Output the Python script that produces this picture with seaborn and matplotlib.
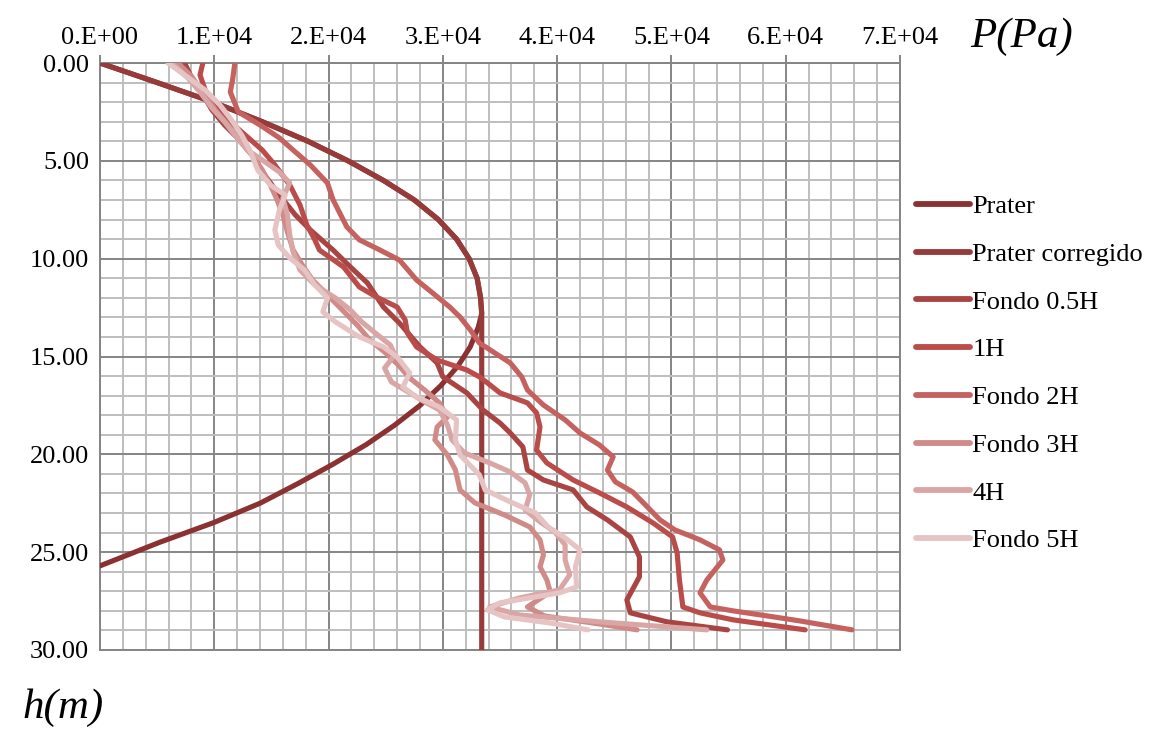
import matplotlib
matplotlib.use("Agg")
import matplotlib.pyplot as plt
import seaborn as sns
import pandas as pd
import numpy as np

# ---------------- data (P in units of 1e4 Pa, h in m) ----------------
series_names = ["Prater", "Prater corregido", "Fondo 0.5H", "1H",
                "Fondo 2H", "Fondo 3H", "4H", "Fondo 5H"]
series_colors = ["#8B3131", "#973A3A", "#A94442", "#BA4C4A",
                 "#C5625F", "#D08A88", "#D9A6A5", "#E6C4C4"]

prater_h = [0, 1, 2, 3, 4, 5, 6, 7, 8, 9, 10, 11, 12, 12.8, 13.5, 14.5, 15.5,
            16.5, 17.5, 18.5, 19.5, 20.5, 21.5, 22.5, 23.5, 24.5, 25.7]
prater_p = [0, 0.50, 0.99, 1.42, 1.82, 2.17, 2.48, 2.75, 2.96, 3.12, 3.23, 3.30,
            3.33, 3.34, 3.31, 3.24, 3.13, 2.98, 2.80, 2.58, 2.33, 2.04, 1.73,
            1.40, 0.99, 0.52, 0]

corr_h = [0, 1, 2, 3, 4, 5, 6, 7, 8, 9, 10, 11, 12, 12.8, 30]
corr_p = [0, 0.50, 0.99, 1.42, 1.82, 2.17, 2.48, 2.75, 2.96, 3.12, 3.23, 3.30,
          3.33, 3.34, 3.34]

f05_h = [0, 0.61, 1.38, 2.40, 3.17, 3.93, 4.70, 5.72, 6.75, 7.77, 8.53, 9.20,
         9.56, 10.42, 11.24, 12.47, 13.29, 14.51, 15.33, 16.04, 16.86, 17.73,
         18.40, 18.91, 19.62, 20.80, 21.31, 21.82, 22.69, 23.35, 24.22, 25.24,
         26.26, 27.44, 28.10, 28.56, 28.97]
f05_p = [0.74, 0.79, 0.875, 0.98, 1.09, 1.22, 1.33, 1.44, 1.57, 1.71, 1.84, 1.97,
         2.04, 2.19, 2.34, 2.48, 2.62, 2.80, 2.95, 3.00, 3.21, 3.35,
         3.50, 3.59, 3.70, 3.74, 3.88, 4.14, 4.26, 4.44, 4.64, 4.72,
         4.72, 4.61, 4.64, 4.96, 5.49]

f1_h = [0, 0.61, 1.38, 2.15, 2.91, 3.68, 4.45, 5.21, 6.23, 7.26, 8.28, 9.04,
        9.56, 10.42, 11.45, 11.96, 12.47, 13.13, 13.80, 14.51, 15.18, 15.69,
        16.04, 16.35, 16.86, 17.37, 17.88, 18.60, 19.78, 20.44, 21.31, 21.97,
        22.69, 23.51, 24.22, 25.04, 26.42, 27.80, 28.10, 28.46, 28.97]
f1_p = [0.90, 0.875, 0.92, 1.01, 1.12, 1.27, 1.42, 1.53, 1.66, 1.75, 1.81, 1.88,
        1.92, 2.13, 2.27, 2.42, 2.60, 2.67, 2.69, 2.77, 2.95, 3.21,
        3.32, 3.39, 3.50, 3.74, 3.82, 3.85, 3.82, 3.91, 4.14, 4.37,
        4.61, 4.84, 5.01, 5.05, 5.07, 5.10, 5.25, 5.54, 6.17]

f2_h = [0, 0.87, 1.48, 2.50, 3.17, 3.83, 4.45, 5.21, 6.13, 7.00, 8.38, 9.04,
        9.56, 10.07, 11.09, 11.75, 12.47, 12.98, 13.64, 14.31, 15.33, 16.04,
        16.71, 17.48, 18.24, 18.91, 19.52, 20.13, 20.80, 21.41, 21.92, 22.69,
        23.35, 23.86, 24.37, 24.88, 25.40, 26.42, 27.08, 27.80, 28.00, 28.26,
        28.51, 28.97]
f2_p = [1.18, 1.16, 1.14, 1.21, 1.40, 1.57, 1.69, 1.84, 1.99, 2.04, 2.16, 2.27,
        2.45, 2.62, 2.77, 2.91, 3.06, 3.15, 3.24, 3.32, 3.59, 3.69,
        3.74, 3.88, 4.07, 4.20, 4.37, 4.49, 4.44, 4.51, 4.66, 4.79,
        4.90, 5.03, 5.25, 5.42, 5.45, 5.31, 5.25, 5.34, 5.54, 5.84,
        6.12, 6.58]

f3_h = [0, 0.61, 1.48, 2.40, 3.17, 3.93, 4.70, 5.47, 6.23, 7.00, 7.77, 8.64,
        9.56, 10.32, 11.09, 11.85, 12.62, 13.39, 14.15, 14.77, 15.43, 16.10,
        16.71, 17.37, 18.09, 18.60, 19.26, 20.03, 20.80, 21.82, 22.48, 23.10,
        23.71, 24.37, 25.14, 25.75, 26.42, 27.03, 27.80, 28.26, 28.67, 28.97]
f3_p = [0.68, 0.79, 0.90, 1.01, 1.12, 1.22, 1.33, 1.42, 1.49, 1.55, 1.60, 1.64,
        1.69, 1.77, 1.86, 1.99, 2.12, 2.25, 2.36, 2.49, 2.61, 2.71,
        2.84, 2.97, 3.04, 2.95, 2.93, 3.04, 3.11, 3.15, 3.28, 3.54,
        3.76, 3.85, 3.88, 3.85, 3.91, 3.94, 3.74, 3.89, 4.37, 4.70]

f4_h = [0, 0.77, 1.48, 2.30, 3.01, 3.83, 4.45, 4.96, 5.57, 6.13, 6.90, 7.77,
        8.79, 9.66, 10.58, 11.34, 12.01, 12.62, 13.23, 13.90, 14.41, 14.92,
        15.59, 16.30, 16.86, 17.32, 17.73, 18.50, 19.26, 19.93, 20.44, 20.90,
        21.46, 22.07, 22.84, 23.45, 23.97, 24.63, 25.40, 26.16, 26.93, 27.34,
        27.80, 28.21, 28.56, 28.97]
f4_p = [0.63, 0.77, 0.875, 0.98, 1.09, 1.20, 1.29, 1.42, 1.57, 1.66, 1.60, 1.64,
        1.66, 1.69, 1.75, 1.88, 2.06, 2.19, 2.29, 2.43, 2.54, 2.58,
        2.49, 2.55, 2.71, 2.84, 2.97, 3.04, 3.08, 3.19, 3.41, 3.59,
        3.72, 3.76, 3.72, 3.85, 3.98, 4.07, 4.07, 4.11, 4.02, 3.67,
        3.41, 3.67, 4.37, 5.31]

f5_h = [0, 0.61, 1.38, 2.15, 2.91, 3.68, 4.45, 5.47, 6.23, 6.75, 7.51, 8.53,
        9.30, 9.96, 10.58, 11.34, 12.01, 12.72, 13.23, 14.00, 14.51, 15.02,
        15.84, 16.56, 17.07, 17.58, 18.24, 19.26, 20.03, 21.05, 21.82, 22.43,
        22.99, 23.71, 24.27, 24.88, 25.75, 26.78, 27.08, 27.59, 27.95, 28.31,
        28.62, 28.97]
f5_p = [0.595, 0.74, 0.92, 1.05, 1.15, 1.24, 1.31, 1.38, 1.49, 1.62, 1.57, 1.53,
        1.56, 1.66, 1.79, 1.88, 1.99, 1.95, 2.06, 2.27, 2.48, 2.60,
        2.71, 2.65, 2.77, 2.97, 3.12, 3.11, 3.15, 3.32, 3.37, 3.59,
        3.81, 3.92, 4.07, 4.20, 4.16, 4.17, 4.02, 3.50, 3.39, 3.54,
        3.94, 4.27]

x_tick_labels = ["0.E+00", "1.E+04", "2.E+04", "3.E+04", "4.E+04",
                 "5.E+04", "6.E+04", "7.E+04"]
y_tick_labels = ["0.00", "5.00", "10.00", "15.00", "20.00", "25.00", "30.00"]

# ---------------- build long table ----------------
all_h = [prater_h, corr_h, f05_h, f1_h, f2_h, f3_h, f4_h, f5_h]
all_p = [prater_p, corr_p, f05_p, f1_p, f2_p, f3_p, f4_p, f5_p]
frames = []
for name, hs, ps in zip(series_names, all_h, all_p):
    frames.append(pd.DataFrame({"series": name,
                                "P": np.asarray(ps) * 1e4,
                                "h": hs}))
df = pd.concat(frames, ignore_index=True)

# ---------------- style ----------------
sns.set_style("white")
plt.rcParams["font.family"] = ["Liberation Serif", "DejaVu Serif"]
plt.rcParams["text.color"] = "black"
plt.rcParams["xtick.labelcolor"] = "black"
plt.rcParams["ytick.labelcolor"] = "black"

fig = plt.figure(figsize=(11.7, 7.34), dpi=100)
ax = fig.add_axes([100 / 1170, 1 - 650 / 734, 800 / 1170, 587 / 734])

minor_c = "#BEBEBE"
major_c = "#858585"
ax.set_xlim(0, 7e4)
ax.set_ylim(30, 0)
ax.set_xticks(np.arange(0, 70001, 10000))
ax.set_xticks(np.arange(0, 70001, 2000), minor=True)
ax.set_yticks(np.arange(0, 31, 5))
ax.set_yticks(np.arange(0, 31, 1), minor=True)
ax.grid(which="minor", color=minor_c, linewidth=1.4, zorder=0)
ax.grid(which="major", color=major_c, linewidth=1.4, zorder=0)
ax.set_axisbelow(True)
for s in ax.spines.values():
    s.set_color(major_c)
    s.set_linewidth(1.4)

sns.lineplot(data=df, x="P", y="h", hue="series", hue_order=series_names,
             palette=series_colors, sort=False, estimator=None, units="series",
             linewidth=3.6, ax=ax, legend=True, zorder=3)
for ln in ax.get_lines():
    ln.set_linewidth(3.7)
    ln.set_solid_joinstyle("round")
    ln.set_solid_capstyle("round")

ax.xaxis.tick_top()
ax.set_xticklabels(x_tick_labels)
ax.set_yticklabels(y_tick_labels)
ax.tick_params(axis="both", which="major", labelsize=19, length=6,
               color=major_c, width=1.4, pad=2, labelcolor="black")
ax.tick_params(axis="x", which="major", pad=4)
ax.tick_params(which="minor", length=0)
ax.set_xlabel("")
ax.set_ylabel("")

handles, labels = ax.get_legend_handles_labels()
ax.get_legend().remove()
leg = fig.legend(handles, labels, loc="upper left",
                 bbox_to_anchor=(905 / 1170, 1 - 184 / 734), frameon=False,
                 fontsize=19, handlelength=2.05, handletextpad=0.1,
                 labelspacing=0.92, borderaxespad=0)
for lh in leg.get_lines():
    lh.set_linewidth(4.2)
for t in leg.get_texts():
    t.set_color("black")

fig.text(1022 / 1170, 1 - 37 / 734, "P(Pa)", fontsize=31, style="italic",
         ha="center", va="center", color="black")
fig.text(63 / 1170, 1 - 708 / 734, "h(m)", fontsize=31, style="italic",
         ha="center", va="center", color="black")

fig.savefig("out.png", dpi=100)
